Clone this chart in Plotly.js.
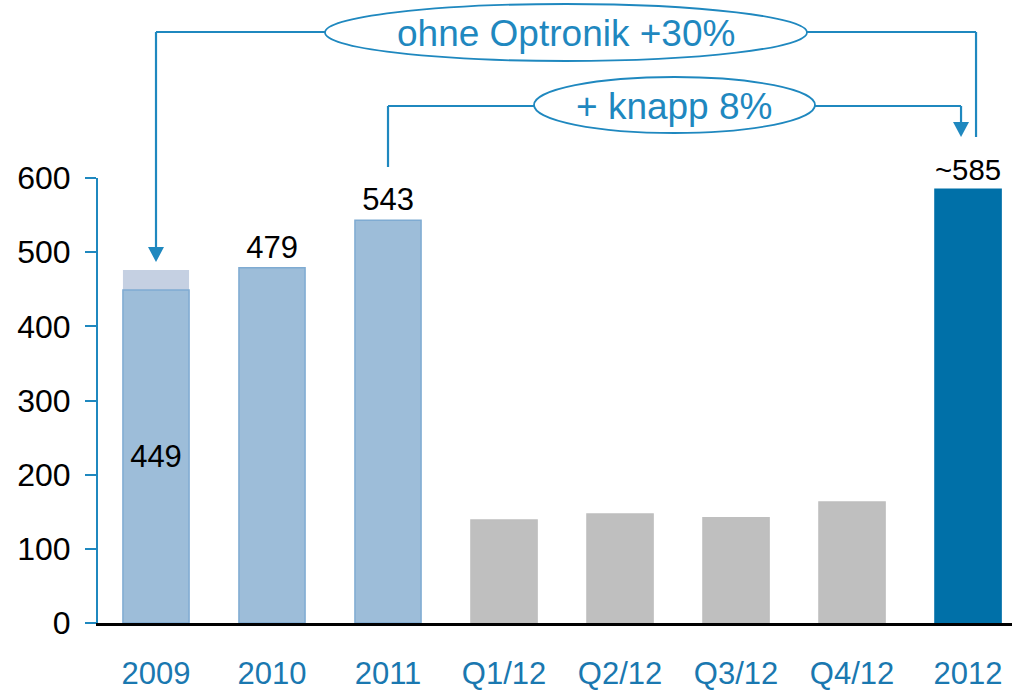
<!DOCTYPE html>
<html><head><meta charset="utf-8">
<script src="https://cdn.plot.ly/plotly-3.0.1.min.js"></script>
<style>html,body{margin:0;padding:0;background:#fff;} #chart{width:1012px;height:690px;}</style>
</head><body><div id="chart"></div>
<script>
// ---- data ----
const categories = ['2009','2010','2011','Q1/12','Q2/12','Q3/12','Q4/12','2012'];
const revenue = [449,479,543,139,147,142,163,585];
const optronikShare = [27,0,0,0,0,0,0,0];
const valueLabels = ['449','479','543','','','','','~585'];
const labelPositions = ['inside','outside','outside','none','none','none','none','outside'];
const barColors = ['#9DBDD9','#9DBDD9','#9DBDD9','#BFBFBF','#BFBFBF','#BFBFBF','#BFBFBF','#0070A8'];
const barLineColors = ['#7FABD2','#7FABD2','#7FABD2','#BFBFBF','#BFBFBF','#BFBFBF','#BFBFBF','#0070A8'];
const callout1 = 'ohne Optronik +30%';
const callout2 = '+ knapp 8%';
const yTicks = [0,100,200,300,400,500,600];

// ---- layout geometry ----
const L = 98, T = 178, W = 914, H = 445;
const xr = [-0.5, -0.5 + 7.879];
const fx = p => (p - L) / W;
const fy = p => (T + H - p) / H;
const cx = i => L + (i - xr[0]) / (xr[1] - xr[0]) * W;

const blue = '#1F88BF';
const FONT = 'Liberation Sans, Arial, sans-serif';
const withOptronik = revenue.map((v, i) => optronikShare[i] > 0 ? v + optronikShare[i] : null);

const traces = [
  {
    type: 'bar', x: categories, y: withOptronik, width: 0.57,
    marker: {color: '#C5D0E2', line: {width: 0}},
    hoverinfo: 'skip', showlegend: false
  },
  {
    type: 'bar', x: categories, y: revenue, width: 0.57,
    marker: {color: barColors, line: {color: barLineColors, width: 1.5}},
    text: valueLabels, textposition: labelPositions, insidetextanchor: 'middle',
    textfont: {family: FONT, size: 31, color: '#000'},
    insidetextfont: {family: FONT, size: 31, color: '#000'},
    outsidetextfont: {family: FONT, size: 31, color: '#000'},
    cliponaxis: false, showlegend: false
  }
];

function line(x0, y0, x1, y1) {
  return {type: 'line', xref: 'paper', yref: 'paper', x0: fx(x0), y0: fy(y0), x1: fx(x1), y1: fy(y1),
          line: {color: blue, width: 2.2}, layer: 'above'};
}
function tri(xc, yTop, yTip, hw) {
  return {type: 'path', xref: 'paper', yref: 'paper',
    path: `M ${fx(xc-hw)} ${fy(yTop)} L ${fx(xc+hw)} ${fy(yTop)} L ${fx(xc)} ${fy(yTip)} Z`,
    fillcolor: blue, line: {color: blue, width: 0}, layer: 'above'};
}
function ell(x0, y0, x1, y1) {
  return {type: 'circle', xref: 'paper', yref: 'paper', x0: fx(x0), y0: fy(y1), x1: fx(x1), y1: fy(y0),
          fillcolor: '#fff', line: {color: blue, width: 1.8}, layer: 'above'};
}

const c0 = cx(0), c2 = cx(2), c7 = cx(7);
const shapes = [
  line(c0, 32, 330, 32), line(c0, 32, c0, 250), tri(c0, 247, 262, 8),
  line(800, 32, c7 + 8, 32), line(c7 + 8, 32, c7 + 8, 137),
  ell(325, 4, 807, 61),
  line(c2, 106, 540, 106), line(c2, 106, c2, 167),
  line(810, 106, c7 - 7, 106), line(c7 - 7, 106, c7 - 7, 124), tri(c7 - 7, 122, 137, 8),
  ell(534, 77, 815, 133)
];

const annotations = [
  {xref: 'paper', yref: 'paper', x: fx(566), y: fy(34), xanchor: 'center', yanchor: 'middle',
   text: callout1, showarrow: false, font: {family: FONT, size: 37, color: blue}},
  {xref: 'paper', yref: 'paper', x: fx(674), y: fy(107), xanchor: 'center', yanchor: 'middle',
   text: callout2, showarrow: false, font: {family: FONT, size: 37, color: blue}}
];

const layout = {
  width: 1012, height: 690,
  margin: {l: L, r: 1012 - L - W, t: T, b: 690 - T - H, pad: 0},
  paper_bgcolor: '#fff', plot_bgcolor: '#fff',
  barmode: 'overlay', showlegend: false,
  font: {family: FONT, size: 30, color: '#000'},
  xaxis: {
    type: 'category', range: xr, showgrid: false, zeroline: false,
    showline: true, linecolor: '#000', linewidth: 2.5, ticks: '',
    tickfont: {size: 31, color: '#1A78B0'}, ticklabelstandoff: 21
  },
  yaxis: {
    range: [0, 600], tickvals: yTicks, showgrid: false, zeroline: false,
    showline: true, linecolor: blue, linewidth: 2,
    ticks: 'outside', ticklen: 11, tickcolor: blue, tickwidth: 2,
    tickfont: {size: 32, color: '#000'}, ticklabelstandoff: 8
  },
  shapes: shapes, annotations: annotations
};

Plotly.newPlot('chart', traces, layout, {displayModeBar: false, staticPlot: true});
</script></body></html>
